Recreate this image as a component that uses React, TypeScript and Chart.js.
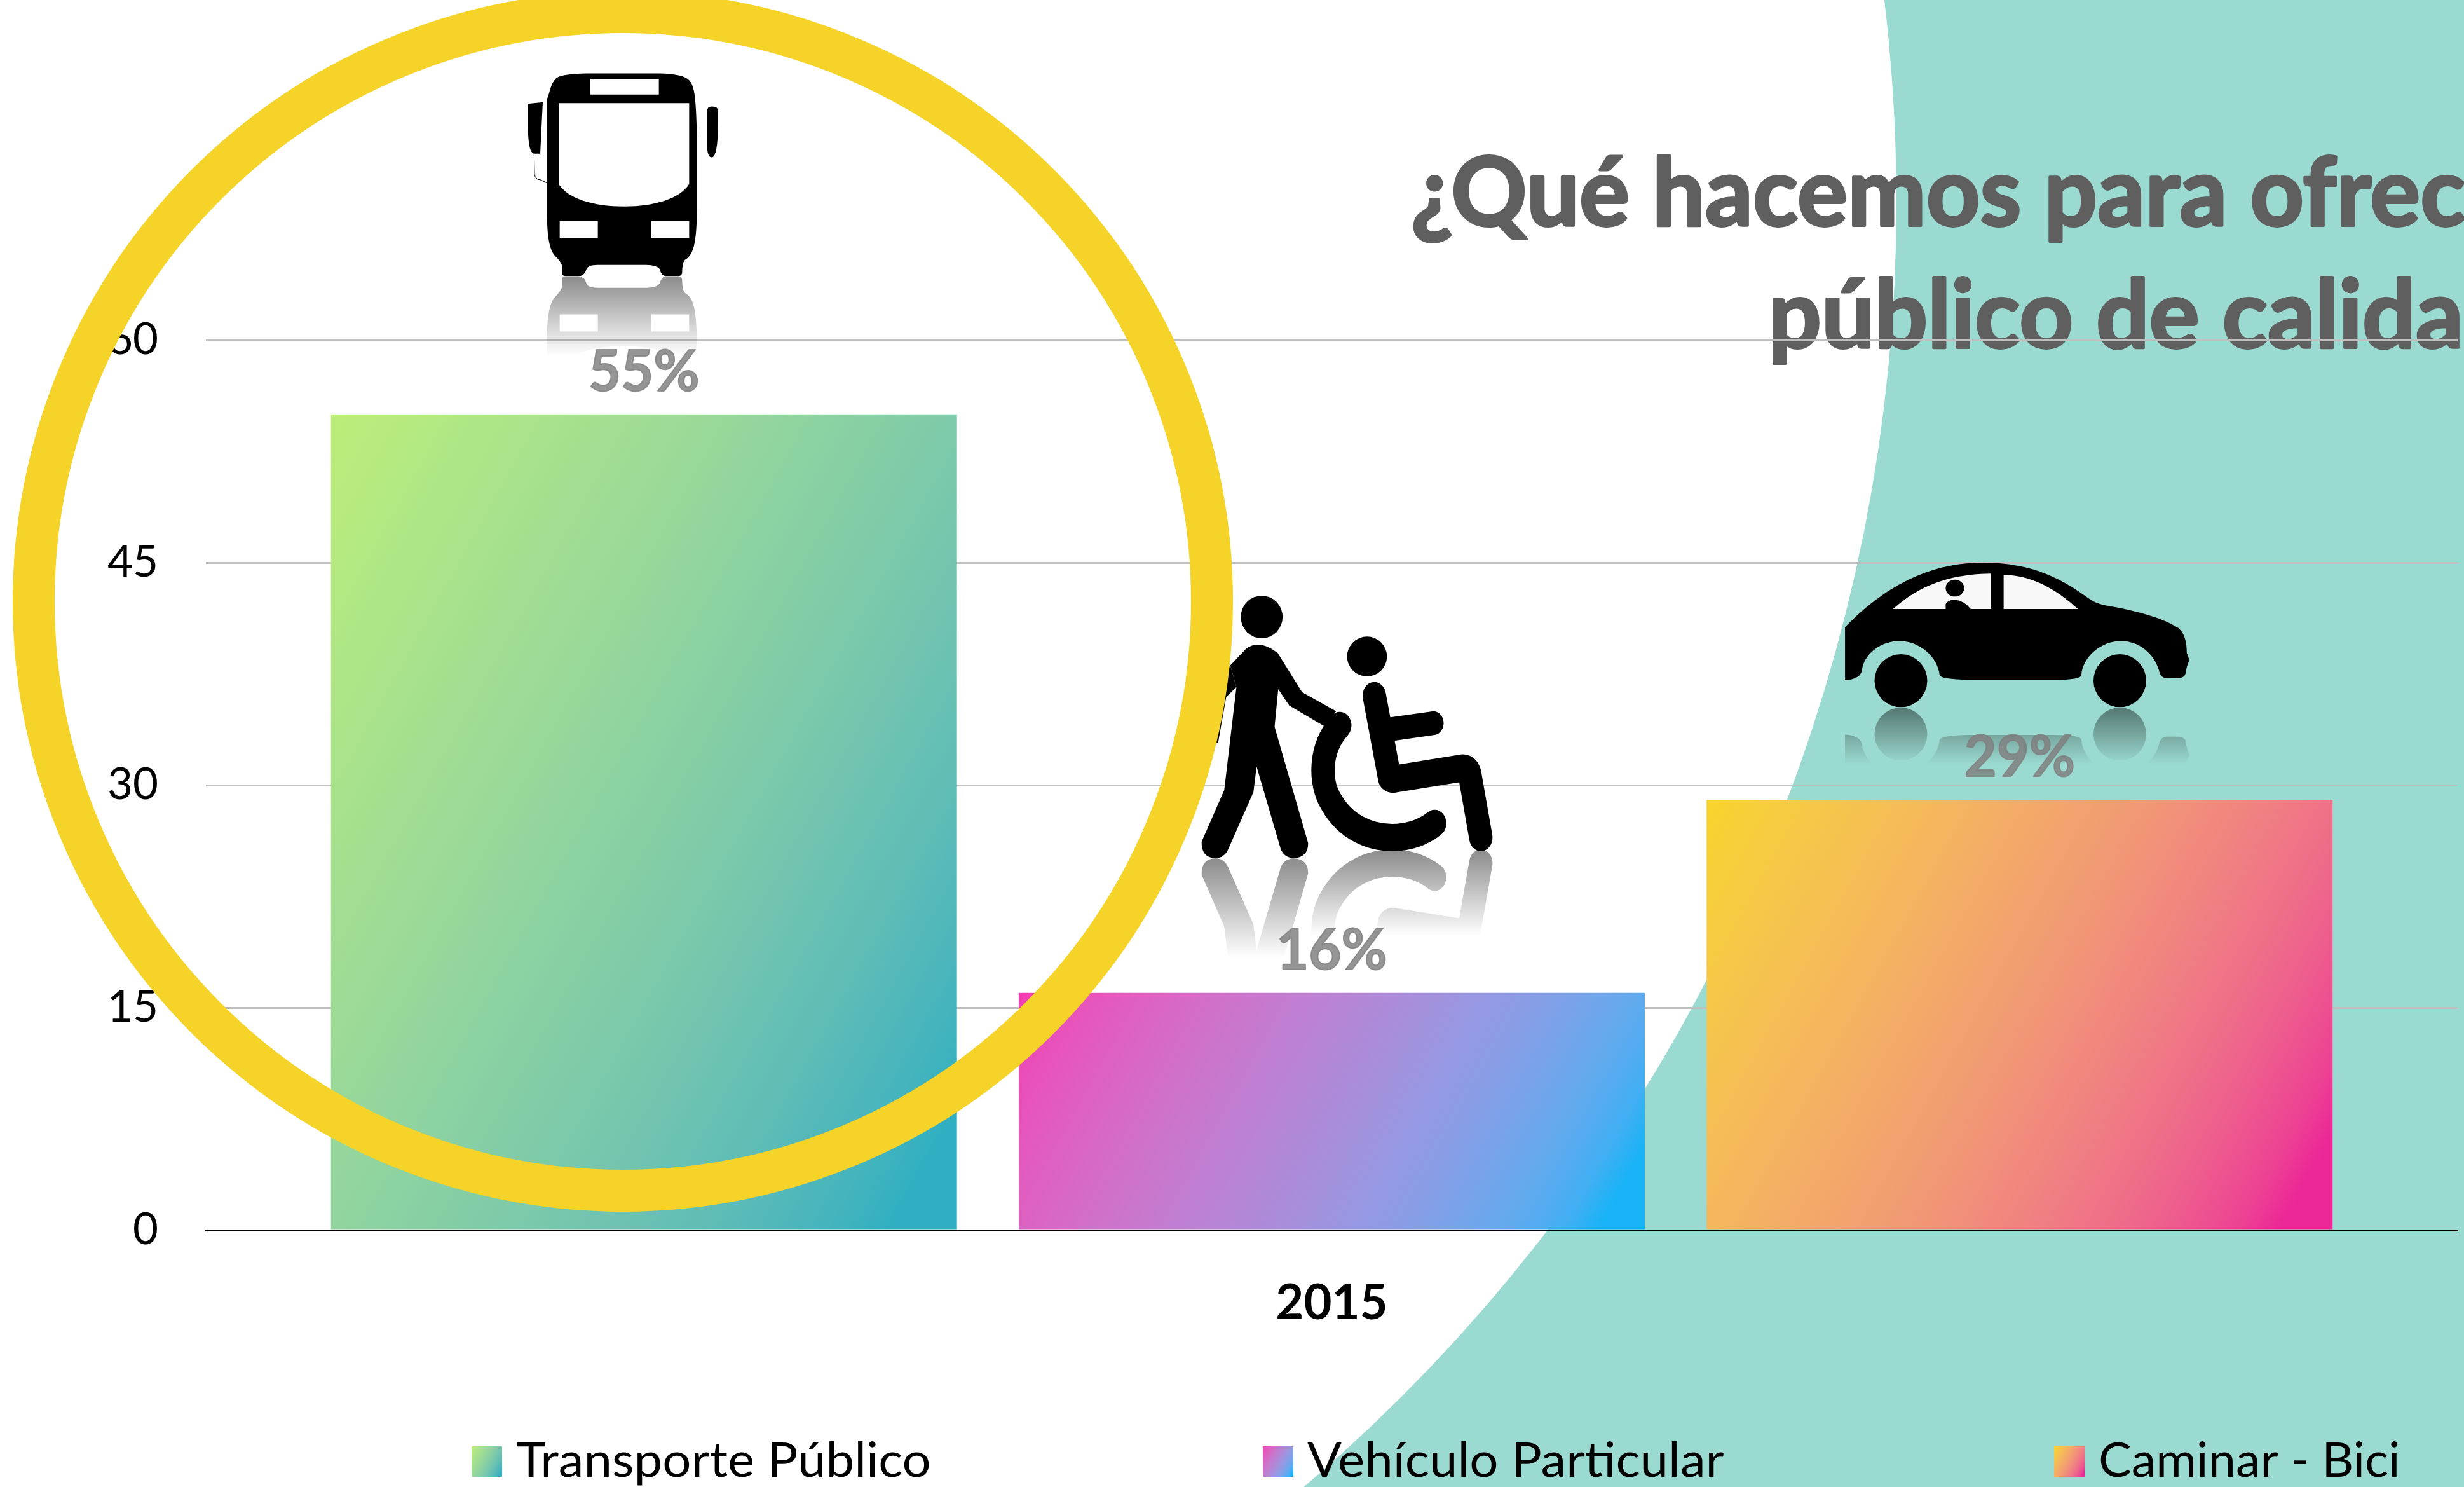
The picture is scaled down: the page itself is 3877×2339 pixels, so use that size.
import { useEffect, useRef } from 'react';
import { Chart, registerables } from 'chart.js';

Chart.register(...registerables);

// ---- data ----
const CATEGORIES = ['2015'];
const SERIES_NAMES = ['Transporte Público', 'Vehículo Particular', 'Caminar - Bici'];
const TRANSPORTE_PUBLICO = [55];
const VEHICULO_PARTICULAR = [16];
const CAMINAR_BICI = [29];
const Y_TICK_STEP = 15;
const Y_MAX = 60;
const TITLE_LINES = ['¿Qué hacemos para ofrec', 'público de calidad'];

// ---- styling ----
const W = 3877;
const H = 2339;
const TEAL = '#9BDAD0';
const YELLOW = '#F6D329';
const GRADIENTS = [
  ['#BBEE78', '#2FAFC1'],
  ['#F23EB3', '#18B3F6'],
  ['#F8D52B', '#EC2697'],
];
const FONT = 'Lato, "Open Sans", sans-serif';

type C = CanvasRenderingContext2D;

const ell = (c: C, x: number, y: number, rx: number, ry: number) => {
  c.beginPath();
  c.ellipse(x, y, rx, ry, 0, 0, Math.PI * 2);
  c.fill();
};

const fillP = (c: C, d: string, color = '#000') => {
  c.fillStyle = color;
  c.fill(new Path2D(d));
};

const strokeP = (c: C, d: string, w: number) => {
  c.strokeStyle = '#000';
  c.lineWidth = w;
  c.lineCap = 'round';
  c.lineJoin = 'round';
  c.stroke(new Path2D(d));
};

const drawBus = (c: C) => {
  fillP(
    c,
    'M332,250 C345,230 345,190 375,165 Q400,147 520,145 L860,145 Q980,147 1005,175 C1030,200 1035,250 1040,400 L1040,700 C1038,820 1030,890 985,910 Q970,920 970,965 Q968,978 950,978 L890,978 Q870,975 865,950 Q850,932 800,932 L570,932 Q525,932 518,950 Q510,978 480,978 L420,978 Q403,978 403,965 L403,935 Q395,915 370,895 C335,860 332,780 332,700 Z'
  );
  fillP(c, 'M387,267 L1003,267 L1003,600 C960,660 840,692 695,692 C550,692 430,660 387,600 Z', '#fff');
  fillP(c, 'M537,167 L860,167 L860,232 L537,232 Z', '#fff');
  fillP(c, 'M392,752 L572,752 L572,823 L392,823 Z', '#fff');
  fillP(c, 'M825,752 L1003,752 L1003,823 L825,823 Z', '#fff');
  fillP(c, 'M242,270 L312,263 L300,475 L270,475 C250,470 242,430 242,350 Z');
  fillP(c, 'M1088,300 Q1088,281 1110,281 Q1140,281 1140,300 L1140,350 Q1138,490 1110,490 Q1088,490 1088,440 Z');
  c.strokeStyle = '#000';
  c.lineWidth = 3;
  c.stroke(new Path2D('M271,475 L273,560 Q278,582 300,582 L332,595'));
};

const drawPerson = (c: C) => {
  c.fillStyle = '#000';
  ell(c, 484, 158, 86, 75);
  fillP(c, 'M355,328 L270,420 L240,620 L305,600 L338,440 L380,405 Z');
  fillP(
    c,
    'M355,328 L420,270 Q475,235 550,285 L650,423 L790,490 L740,542 L597,470 L552,412 L537,545 L675,955 Q675,1005 615,1008 Q575,1005 562,975 L463,685 L450,775 L347,975 Q330,1008 292,1008 Q235,1005 237,950 L330,768 L380,405 Z'
  );
};

const drawChair = (c: C) => {
  c.fillStyle = '#000';
  ell(c, 917, 297, 82, 70);
  strokeP(c, 'M805,540 C720,620 720,740 770,810 C830,900 930,935 1020,935 C1090,935 1150,915 1195,885', 96);
  strokeP(c, 'M947,435 L1010,725 Q1020,732 1035,728 L1310,690 Q1335,690 1340,715 L1385,935', 96);
  strokeP(c, 'M1000,555 L1190,532', 84);
};

const drawCar = (c: C) => {
  fillP(
    c,
    'M128,410 C230,280 400,105 650,105 C850,105 960,190 1060,280 Q1080,297 1110,305 C1250,335 1340,370 1395,415 C1420,445 1425,490 1425,530 L1435,565 Q1425,590 1420,630 Q1415,650 1390,650 L1350,650 Q1325,650 1320,615 C1300,530 1240,475 1175,475 C1100,475 1030,550 1025,635 Q1025,658 920,658 L600,658 Q490,655 487,635 C480,550 410,475 335,475 C270,475 200,530 192,615 Q185,655 128,660 Z'
  );
  fillP(c, 'M310,324 C370,260 470,160 682,157 L682,324 Z', '#F8F8F8');
  fillP(c, 'M730,162 C830,165 920,220 1012,324 L730,324 Z', '#F8F8F8');
  c.fillStyle = '#000';
  ell(c, 545, 225, 35, 40);
  fillP(c, 'M510,324 L510,300 Q520,280 545,280 Q580,285 605,324 Z');
  c.fillStyle = '#000';
  ell(c, 340, 662, 100, 125);
  ell(c, 1171, 662, 100, 125);
};

const ICONS = [
  { ox: 750, oy: 60, sx: 1 / 3, sy: 1 / 2.613, mirror: 434.7, fade: 125, draw: drawBus },
  { ox: 1800, oy: 900, sx: 1 / 2.613, sy: 1 / 2.24, mirror: 1350, fade: 157, draw: drawPerson },
  { ox: 1800, oy: 900, sx: 1 / 2.613, sy: 1 / 2.24, mirror: 1337.5, fade: 134, draw: drawChair },
  { ox: 2850, oy: 850, sx: 1 / 2.412, sy: 1 / 3, mirror: 1112.7, fade: 89, draw: drawCar },
];

const drawIcons = (ctx: C) => {
  ICONS.forEach((ic) => {
    const off = document.createElement('canvas');
    off.width = W;
    off.height = H;
    const o = off.getContext('2d') as C;
    o.translate(0, 2 * ic.mirror);
    o.scale(1, -1);
    o.translate(ic.ox, ic.oy);
    o.scale(ic.sx, ic.sy);
    ic.draw(o);
    o.setTransform(1, 0, 0, 1, 0, 0);
    o.globalCompositeOperation = 'destination-in';
    const g = o.createLinearGradient(0, ic.mirror, 0, ic.mirror + ic.fade);
    g.addColorStop(0, 'rgba(0,0,0,0.45)');
    g.addColorStop(1, 'rgba(0,0,0,0)');
    o.fillStyle = g;
    o.fillRect(0, 0, W, H);
    ctx.drawImage(off, 0, 0);

    ctx.save();
    ctx.translate(ic.ox, ic.oy);
    ctx.scale(ic.sx, ic.sy);
    ic.draw(ctx);
    ctx.restore();
  });
};

const condensedText = (
  ctx: C,
  text: string,
  x: number,
  y: number,
  font: string,
  color: string,
  sx: number,
  align: CanvasTextAlign = 'left',
  heavy = 0
) => {
  ctx.save();
  ctx.font = font;
  ctx.fillStyle = color;
  ctx.textAlign = align;
  ctx.textBaseline = 'alphabetic';
  ctx.translate(x, y);
  ctx.scale(sx, 1);
  if (heavy > 0) {
    ctx.strokeStyle = color;
    ctx.lineWidth = heavy;
    ctx.lineJoin = 'round';
    ctx.strokeText(text, 0, 0);
  }
  ctx.fillText(text, 0, 0);
  ctx.restore();
};

const hex = (s: string) => [1, 3, 5].map((k) => parseInt(s.slice(k, k + 2), 16));
const toLin = (v: number) => Math.pow(v / 255, 2.2);
const toS = (v: number) => Math.round(255 * Math.pow(v, 1 / 2.2));

// Office-style gradient: blended in linear light, tilted from the horizontal,
// reaching its end colour a little before the far corner.
const diagGradient = (ctx: C, x: number, y: number, w: number, h: number, stops: string[]) => {
  const dx = 1.8;
  const dy = 1;
  const k = (0.94 * (w * dx + h * dy)) / (dx * dx + dy * dy);
  const g = ctx.createLinearGradient(x, y, x + dx * k, y + dy * k);
  const a = hex(stops[0]);
  const b = hex(stops[1]);
  for (let i = 0; i <= 20; i++) {
    const t = i / 20;
    const c = a.map((v, j) => toS(toLin(v) * (1 - t) + toLin(b[j]) * t));
    g.addColorStop(t, `rgb(${c[0]},${c[1]},${c[2]})`);
  }
  return g;
};

const scene = {
  id: 'scene',
  afterUpdate(chart: any) {
    chart.data.datasets.forEach((_: any, i: number) => {
      const el = chart.getDatasetMeta(i).data[0];
      const h = el.base - el.y;
      const bg = diagGradient(chart.ctx, el.x - el.width / 2, el.y, el.width, h, GRADIENTS[i]);
      el.options = Object.assign({}, el.options, { backgroundColor: bg });
    });
  },
  beforeDraw(chart: any) {
    const ctx: C = chart.ctx;
    ctx.save();
    ctx.fillStyle = TEAL;
    ctx.fillRect(0, 0, W, H);
    ctx.fillStyle = '#fff';
    ctx.beginPath();
    ctx.arc(328, 318, 2656, 0, Math.PI * 2);
    ctx.fill();
    ctx.restore();
    const tf = `bold 150px ${FONT}`;
    condensedText(ctx, TITLE_LINES[0], 2220, 355, tf, '#5F5F5F', 0.985, 'left', 4);
    condensedText(ctx, TITLE_LINES[1], 2782, 547, tf, '#5F5F5F', 0.985, 'left', 4);
  },
  afterDatasetsDraw(chart: any) {
    const ctx: C = chart.ctx;
    drawIcons(ctx);
    chart.data.datasets.forEach((ds: any, i: number) => {
      const el = chart.getDatasetMeta(i).data[0];
      condensedText(ctx, `${ds.data[0]}%`, el.x, el.y - 37, `bold 90px ${FONT}`, 'rgba(127,127,127,0.83)', 0.98, 'center', 2);
    });
  },
  afterDraw(chart: any) {
    const ctx: C = chart.ctx;
    const xs = [742, 1987, 3232];
    chart.data.datasets.forEach((ds: any, i: number) => {
      ctx.fillStyle = diagGradient(ctx, xs[i], 2275, 48, 48, GRADIENTS[i]);
      ctx.fillRect(xs[i], 2275, 48, 48);
      condensedText(ctx, ds.label, xs[i] + 70, 2323, `76px ${FONT}`, '#000', i === 2 ? 1.02 : 1.05);
    });
    ctx.save();
    ctx.strokeStyle = YELLOW;
    ctx.lineWidth = 66;
    ctx.beginPath();
    ctx.arc(980, 946, 927, 0, Math.PI * 2);
    ctx.stroke();
    ctx.restore();
  },
};

export default function App() {
  const ref = useRef<HTMLCanvasElement>(null);
  useEffect(() => {
    document.body.style.margin = '0';
    const seriesValues = [TRANSPORTE_PUBLICO, VEHICULO_PARTICULAR, CAMINAR_BICI];
    const chart = new Chart(ref.current as HTMLCanvasElement, {
      type: 'bar',
      data: {
        labels: CATEGORIES,
        datasets: SERIES_NAMES.map((label, i) => ({
          label,
          data: seriesValues[i],
          backgroundColor: GRADIENTS[i][0],
          categoryPercentage: 0.9164,
          barPercentage: 0.9101,
        })),
      },
      plugins: [scene],
      options: {
        responsive: false,
        animation: false,
        devicePixelRatio: 1,
        layout: { padding: { top: 535, right: 10, left: 0, bottom: 0 } },
        plugins: { legend: { display: false }, title: { display: false }, tooltip: { enabled: false } },
        scales: {
          x: {
            afterFit: (s: any) => {
              s.height = 404;
            },
            grid: { display: false },
            border: { color: '#000', width: 3 },
            ticks: { color: '#000', padding: 62, font: { family: FONT, size: 76, weight: 'bold' } },
          },
          y: {
            min: 0,
            max: Y_MAX,
            afterFit: (s: any) => {
              s.width = 324;
            },
            grid: { color: '#BFBFBF', lineWidth: 3, drawTicks: false },
            border: { display: false },
            ticks: { stepSize: Y_TICK_STEP, color: '#000', padding: 75, font: { family: FONT, size: 69 } },
          },
        },
      } as any,
    });
    return () => chart.destroy();
  }, []);
  return (
    <div style={{ position: 'absolute', left: 0, top: 0, width: W, height: H }}>
      <canvas ref={ref} width={W} height={H} style={{ display: 'block' }} />
    </div>
  );
}
